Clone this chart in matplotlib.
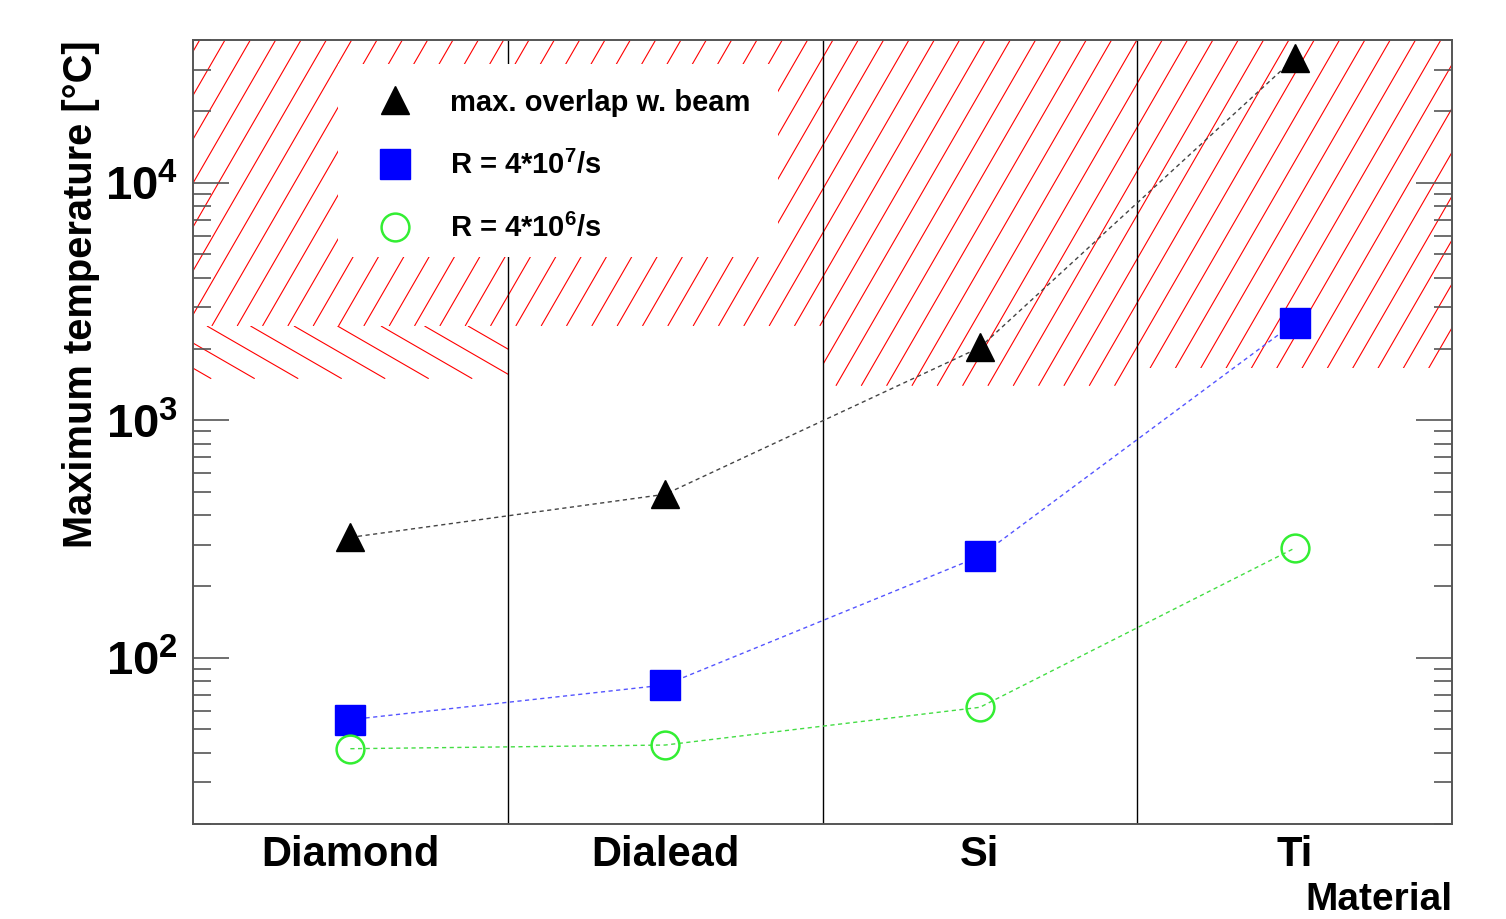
import numpy as np
import matplotlib
matplotlib.use("Agg")
import matplotlib.pyplot as plt
from matplotlib.lines import Line2D
from matplotlib.patches import Rectangle
from matplotlib.collections import LineCollection
from matplotlib.transforms import IdentityTransform
from matplotlib.ticker import LogLocator, LogFormatterMathtext, NullFormatter

plt.rcParams['font.family'] = ['Liberation Sans', 'DejaVu Sans']
plt.rcParams['font.weight'] = 'bold'
plt.rcParams['mathtext.fontset'] = 'custom'
plt.rcParams['mathtext.rm'] = 'Liberation Sans:bold'
plt.rcParams['mathtext.bf'] = 'Liberation Sans:bold'
plt.rcParams['mathtext.default'] = 'bf'

# maximum temperature per target material
materials = ['Diamond', 'Dialead', 'Si', 'Ti']
t_max_overlap = [322, 489, 2030, 33500]
t_rate_4e7 = [55, 77, 268, 2580]
t_rate_4e6 = [41.5, 43, 62, 290]

# forbidden zones (above melting / damage temperature)
limit_upper = [2500, 2500, 1400, 1660]
diamond_band = (1500, 2500)

W, H = 1506, 919
fig = plt.figure(figsize=(W / 100, H / 100), dpi=100)
ax = fig.add_axes([193 / W, 1 - 824 / H, (1452 - 193) / W, (824 - 40) / H])

x = np.arange(len(materials)) + 0.5
ax.set_xlim(0, len(materials))
ax.set_yscale('log')
ax.set_ylim(20, 40000)


def hatch_box(ax, x0, x1, y0, y1, angle, step, ref, zorder=1):
    # draws red hatch lines (angle in degrees, step = horizontal pitch in px)
    # clipped to a box given in data coordinates
    (px0, py0), (px1, py1) = ax.transData.transform([(x0, y0), (x1, y1)])
    m = 1.0 / np.tan(np.radians(angle))
    rx, ry = ref
    c0 = rx - ry * m
    cands = [px0 - py0 * m, px0 - py1 * m, px1 - py0 * m, px1 - py1 * m]
    kmin = int(np.floor((min(cands) - c0) / step)) - 1
    kmax = int(np.ceil((max(cands) - c0) / step)) + 1
    segs = []
    for k in range(kmin, kmax + 1):
        c = c0 + k * step
        segs.append([(c + py0 * m, py0), (c + py1 * m, py1)])
    lc = LineCollection(segs, colors='#ff0000', linewidths=0.8,
                        transform=IdentityTransform(), zorder=zorder)
    ax.add_collection(lc, autolim=False)
    # clip after adding, otherwise the axes patch replaces the clip box
    clip = Rectangle((px0, py0), px1 - px0, py1 - py0, transform=IdentityTransform())
    lc.set_clip_path(clip)


ytop = ax.get_ylim()[1]
for i, lo in enumerate(limit_upper):
    hatch_box(ax, i, i + 1, lo, ytop, 60, 25.33, (225, H - 40))
hatch_box(ax, 0, 1, diamond_band[0], diamond_band[1], 150, 43.5, (207, H - 326))

# material separators
for xs in range(1, len(materials)):
    ax.axvline(xs, color='black', lw=1.0, zorder=1.5)

# blank area behind the legend
ax.add_patch(Rectangle((0.1152, 0.7232), 0.3495, 0.2462, transform=ax.transAxes,
                       facecolor='white', edgecolor='none', zorder=2))

dash = (0, (3, 2.5))
ax.plot(x, t_max_overlap, ls=dash, color='#444444', lw=1.0, zorder=3)
ax.plot(x, t_rate_4e7, ls=dash, color='#5555ff', lw=1.0, zorder=3)
ax.plot(x, t_rate_4e6, ls=dash, color='#44dd44', lw=1.0, zorder=3)
ax.plot(x, t_max_overlap, ls='none', marker='^', ms=20, color='black', zorder=4)
ax.plot(x, t_rate_4e7, ls='none', marker='s', ms=21, color='#0000ff', zorder=4)
ax.plot(x, t_rate_4e6, ls='none', marker='o', ms=20, mfc='none', mec='#33ee33',
        mew=1.8, zorder=4)

handles = [
    Line2D([], [], ls='none', marker='^', ms=20, color='black'),
    Line2D([], [], ls='none', marker='s', ms=21, color='#0000ff'),
    Line2D([], [], ls='none', marker='o', ms=20, mfc='none', mec='#33ee33', mew=1.8),
]
labels = ['max. overlap w. beam', r'R = 4*10$^{7}$/s', r'R = 4*10$^{6}$/s']
leg = ax.legend(handles, labels, loc='upper left', bbox_to_anchor=(0.1489, 0.9381),
                frameon=False, fontsize=21, handlelength=1.0, handletextpad=1.38,
                labelspacing=1.17, borderpad=0, borderaxespad=0, numpoints=1)
leg.set_zorder(5)

# axes styling
for sp in ax.spines.values():
    sp.set_color('#555555')
    sp.set_linewidth(1.4)
    sp.set_zorder(6)

ax.set_xticks(x)
ax.set_xticklabels(materials, fontsize=30, fontweight='bold')
ax.tick_params(axis='x', length=0, pad=8)

ax.yaxis.set_major_locator(LogLocator(base=10))
ax.yaxis.set_minor_locator(LogLocator(base=10, subs=np.arange(2, 10)))
ax.yaxis.set_major_formatter(LogFormatterMathtext())
ax.yaxis.set_minor_formatter(NullFormatter())
ax.tick_params(axis='y', which='major', direction='in', length=26, width=1.2,
               color='#555555', left=True, right=True, labelsize=34, pad=11)
ax.tick_params(axis='y', which='minor', direction='in', length=13, width=1.2,
               color='#555555', left=True, right=True)

fig.text(81 / W, 1 - 40 / H, 'Maximum temperature [°C]', rotation=90,
         ha='center', va='top', fontsize=28.7, fontweight='bold')
fig.text(1452 / W, 1 - 910 / H, 'Material', ha='right', va='baseline',
         fontsize=28, fontweight='bold')

fig.savefig('out.png', dpi=100)
